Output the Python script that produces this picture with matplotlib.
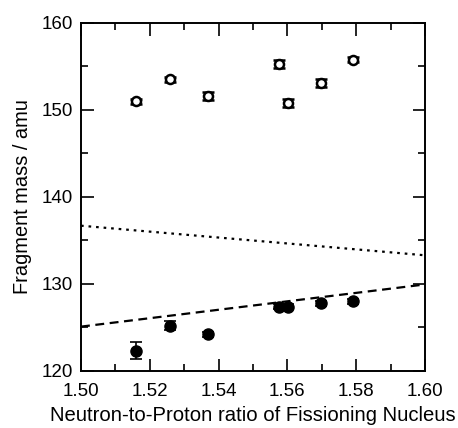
import matplotlib
matplotlib.use("Agg")
import matplotlib.pyplot as plt
from matplotlib.ticker import MultipleLocator

plt.rcParams['font.family'] = ['Liberation Sans', 'DejaVu Sans']

# heavy fragment (open) and light fragment (filled) mean masses
nz = [1.516, 1.526, 1.537, 1.5577, 1.5603, 1.5698, 1.579]
heavy = [151.0, 153.55, 151.6, 155.3, 150.8, 153.1, 155.8]
heavy_err = [0.3, 0.3, 0.45, 0.45, 0.45, 0.45, 0.3]
light = [122.35, 125.2, 124.2, 127.4, 127.4, 127.8, 128.0]
light_err = [0.95, 0.5, 0.3, 0.3, 0.3, 0.3, 0.3]

# model lines (endpoints at N/Z = 1.50 and 1.60)
line_x = [1.50, 1.60]
dotted_y = [136.7, 133.3]
dashed_y = [125.1, 129.95]

fig = plt.figure(figsize=(4.58, 4.28), dpi=100)
ax = fig.add_axes([81/458, 1 - 371/428, 344/458, 348/428])

ax.plot(line_x, dotted_y, color='black', linestyle=(0, (1.2, 2.2)), lw=1.6)
ax.plot(line_x, dashed_y, color='black', linestyle=(0, (4, 2.5)), lw=1.6)

ax.errorbar(nz, heavy, yerr=heavy_err, fmt='o', mfc='white', mec='black',
            mew=1.8, ms=6.5, ecolor='black', elinewidth=1.2, capsize=4, capthick=1.2)
ax.errorbar(nz, light, yerr=light_err, fmt='o', mfc='black', mec='black',
            ms=8, ecolor='black', elinewidth=1.2, capsize=4, capthick=1.2)

ax.set_xlim(1.50, 1.60)
ax.set_ylim(120, 160)
ax.set_xticks([1.50, 1.52, 1.54, 1.56, 1.58, 1.60])
ax.set_yticks([120, 130, 140, 150, 160])
ax.xaxis.set_minor_locator(MultipleLocator(0.01))
ax.yaxis.set_minor_locator(MultipleLocator(5))
ax.tick_params(which='both', direction='in', top=True, right=True, labelsize=13.5, width=1.2)
ax.tick_params(which='major', length=9)
ax.tick_params(which='minor', length=5)
ax.tick_params(axis='x', which='major', pad=9)
ax.tick_params(axis='y', which='major', pad=6)
for s in ax.spines.values():
    s.set_linewidth(1.4)

ax.set_xlabel('Neutron-to-Proton ratio of Fissioning Nucleus', fontsize=14.6, labelpad=4)
ax.set_ylabel('Fragment mass / amu', fontsize=14.4, labelpad=7)

fig.savefig('out.png', dpi=100)
